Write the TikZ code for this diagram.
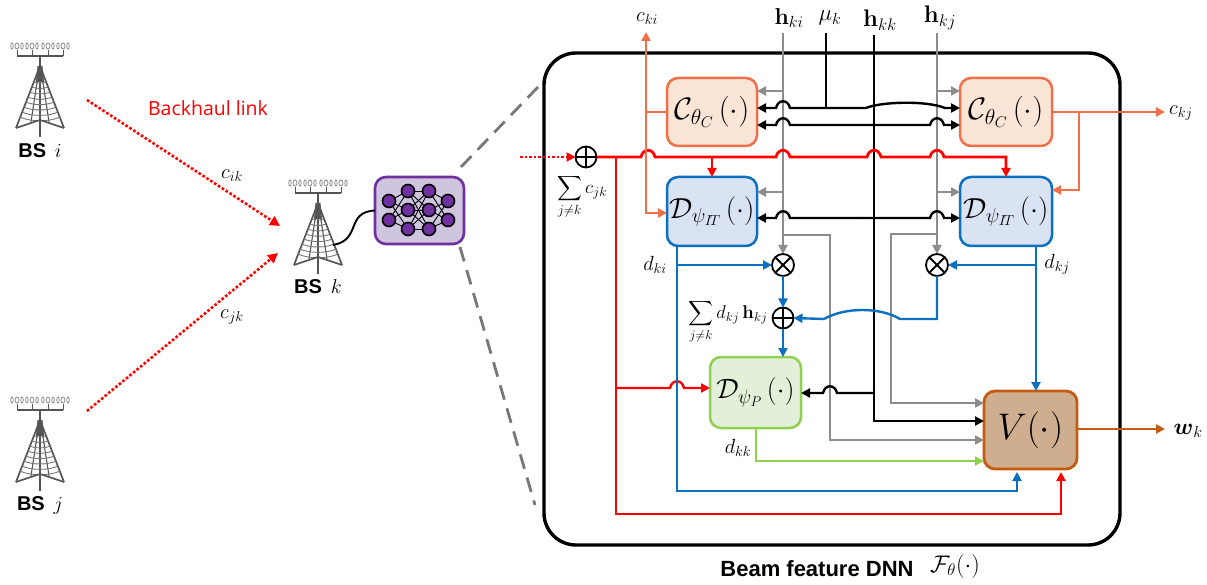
\RequirePackage{fix-cm}
\documentclass[tikz,border=0pt]{standalone}
\usepackage{amsmath}
\usepackage[no-math]{fontspec}
\setmainfont{Liberation Sans}
\newfontfamily\linkfont{Open Sans}
\usetikzlibrary{arrows.meta,calc}
\definecolor{cOr}{HTML}{F0704A}
\definecolor{cOrF}{HTML}{FBE5D6}
\definecolor{cBl}{HTML}{0B70C0}
\definecolor{cBlF}{HTML}{DAE3F3}
\definecolor{cGr}{HTML}{8FD14F}
\definecolor{cGrF}{HTML}{E2F0D9}
\definecolor{cBr}{HTML}{C55A11}
\definecolor{cBrF}{HTML}{CFAE8F}
\definecolor{cPu}{HTML}{7030A0}
\definecolor{cPuF}{HTML}{CFC5DE}
\definecolor{cGy}{HTML}{8C8C8C}
\definecolor{cTw}{HTML}{555555}
\newcommand{\fs}[1]{\fontsize{#1}{#1}\selectfont}
\newcommand{\hopR}[2]{-- (#1-7,#2) .. controls (#1-5,#2-9) and (#1+5,#2-9) .. (#1+7,#2)}
\newcommand{\hopL}[2]{-- (#1+7,#2) .. controls (#1+5,#2-9) and (#1-5,#2-9) .. (#1-7,#2)}
\tikzset{
  x=1pt,y=-1pt,
  block/.style={draw,line width=2.5pt,rounded corners=11pt,inner sep=0pt,outer sep=0pt},
  conn/.style={line width=2.4pt,-{Triangle[length=9pt,width=9pt]}},
  plain/.style={line width=2.4pt},
  lab/.style={inner sep=0pt,outer sep=0pt,font=\fs{20.5}},
  bslab/.style={inner sep=0pt,outer sep=0pt,font=\fs{20}\bfseries},
  plusop/.style={circle,draw,line width=1.8pt,minimum size=21pt,inner sep=0pt,outer sep=0pt,fill=white,
    path picture={\draw[line width=1.8pt] (path picture bounding box.north)--(path picture bounding box.south)
      (path picture bounding box.west)--(path picture bounding box.east);}},
  timesop/.style={circle,draw,line width=1.8pt,minimum size=22pt,inner sep=0pt,outer sep=0pt,fill=white,
    path picture={\draw[line width=1.8pt] (path picture bounding box.north west)--(path picture bounding box.south east)
      (path picture bounding box.south west)--(path picture bounding box.north east);}},
  nn/.style={circle,draw=black,line width=1.6pt,fill=cPu,minimum size=13pt,inner sep=0pt,outer sep=0pt},
  tower/.pic={
    \begin{scope}[cTw]
    \foreach \a in {-23,-8,8,23}{
      \draw[line width=.9pt] (\a,0)--(\a,-6);
      \draw[line width=.8pt,cGy] (\a,-10) ellipse [x radius=2pt,y radius=3pt];
      \draw[line width=.8pt,cGy] (\a-5,-10) ellipse [x radius=1.2pt,y radius=3pt];
      \draw[line width=.8pt,cGy] (\a+5,-10) ellipse [x radius=1.2pt,y radius=3pt];
    }
    \draw[line width=1.1pt] (-23,0)--(23,0);
    \draw[line width=1.8pt] (0,0)--(0,81);
    \fill (-2.5,10)--(2.5,10)--(4,26)--(-4,26)--cycle;
    \draw[line width=1.7pt] (-1.5,14)--(-24,72) (1.5,14)--(24,72);
    \draw[line width=1.1pt] (-1,14)--(-9,66) (1,14)--(9,66);
    \foreach \h/\w in {26/6,31/8,36/10,41/12,46/14,51/16,56/18,61/20}{
      \draw[line width=.9pt,cTw!80] (-\w,\h) .. controls (-\w/2,\h+\w*.25) and (\w/2,\h+\w*.25) .. (\w,\h);
    }
    \draw[line width=1.6pt] (-24,72)--(0,64)--(24,72);
    \end{scope}
  }
}
\begin{document}
\begin{tikzpicture}
\useasboundingbox (0,0) rectangle (1207,585);

% ---------- left: base stations
\pic at (40,56) {tower};
\pic at (40,410) {tower};
\pic at (318,193) {tower};
\node[bslab] (bsi) at (40,151) {BS $\,i$};
\node[bslab] (bsj) at (40,505) {BS $\,j$};
\node[bslab] (bsk) at (318,287) {BS $\,k$};
\coordinate (ti) at (87,100);
\coordinate (tj) at (87,411);
\coordinate (ki) at (280,226);
\coordinate (kj) at (278,253);
\coordinate (kc) at (333,245);
\draw[red,line width=2.6pt,dotted,-{Triangle[length=10pt,width=10pt]}] (ti)--(ki);
\draw[red,line width=2.6pt,dotted,-{Triangle[length=10pt,width=10pt]}] (tj)--(kj);
\node[lab,red,font=\fs{19.5}\linkfont] (bh) at (208,108) {Backhaul link};
\node[lab] (lik) at (232,176) {$c_{ik}$};
\node[lab] (ljk) at (232,317) {$c_{jk}$};

% ---------- neural net
\node[block,draw=cPu,fill=cPuF,line width=2.6pt,minimum width=89pt,minimum height=67pt] (net) at (419.5,210.5) {};
\foreach \n/\px/\py in {a1/389/201,a2/389/220,b1/408/191,b2/408/210,b3/408/229,c1/429/191,c2/429/210,c3/429/229,d1/448/201,d2/448/220}{
  \coordinate (\n) at (\px,\py);
}
\foreach \s in {a1,a2}\foreach \t in {b1,b2,b3}{\draw[line width=.9pt] (\s)--(\t);}
\foreach \s in {b1,b2,b3}\foreach \t in {c1,c2,c3}{\draw[line width=.9pt] (\s)--(\t);}
\foreach \s in {c1,c2,c3}\foreach \t in {d1,d2}{\draw[line width=.9pt] (\s)--(\t);}
\foreach \n in {a1,a2,b1,b2,b3,c1,c2,c3,d1,d2}{\node[nn] at (\n) {};}
\draw[line width=1.9pt] (kc) .. controls (362,240) and (345,212) .. (net.west);

% ---------- zoom guides
\coordinate (g1) at (538,87);
\coordinate (g2) at (460,168);
\coordinate (g3) at (460,247);
\coordinate (g4) at (535,505);
\draw[cTw!80,line width=2.8pt,dash pattern=on 15pt off 9pt] (g1)--(g2);
\draw[cTw!80,line width=2.8pt,dash pattern=on 15pt off 9pt] (g3)--(g4);

% ---------- DNN frame
\node[draw,line width=3.4pt,rounded corners=32pt,minimum width=576pt,minimum height=492pt,inner sep=0pt,outer sep=0pt] (dnn) at (832,299) {};

% ---------- blocks
\node[block,draw=cOr,fill=cOrF,minimum width=90pt,minimum height=68pt,font=\fs{31}] (cl) at (712,112) {$\mathcal{C}_{\theta_C}\,(\cdot)$};
\node[block,draw=cOr,fill=cOrF,minimum width=92pt,minimum height=68pt,font=\fs{31}] (cr) at (1006,112) {$\mathcal{C}_{\theta_C}\,(\cdot)$};
\node[block,draw=cBl,fill=cBlF,minimum width=90pt,minimum height=69pt,font=\fs{29}] (dl) at (712,211.5) {$\mathcal{D}_{\psi_{I\!T}}\,(\cdot)$};
\node[block,draw=cBl,fill=cBlF,minimum width=92pt,minimum height=69pt,font=\fs{29}] (dr) at (1006,211.5) {$\mathcal{D}_{\psi_{I\!T}}\,(\cdot)$};
\node[block,draw=cGr,fill=cGrF,minimum width=91pt,minimum height=71pt,font=\fs{28}] (dp) at (755.5,392.5) {$\mathcal{D}_{\psi_{P}}\,(\cdot)$};
\node[block,draw=cBr,fill=cBrF,line width=2.8pt,minimum width=93pt,minimum height=78pt,font=\fs{37}] (v) at (1030.5,430) {$V(\cdot)$};

% ---------- operators
\node[plusop] (sumin) at (586,157) {};
\node[timesop] (t1) at (783,265) {};
\node[timesop] (t2) at (937,265) {};
\node[plusop] (sumh) at (783,318) {};

% ---------- named ends
\coordinate (hki) at (783,33);
\coordinate (hkj) at (937,33);
\coordinate (hkk) at (874,35);
\coordinate (mu) at (826,33);
\coordinate (cout) at (646,32);
\coordinate (crout) at (1165,112);
\coordinate (wout) at (1165,429);
\coordinate (dotin) at (520,157);

% ---------- gray channels
\draw[conn,cGy] (hki)--(t1.north);
\draw[conn,cGy] (hkj)--(t2.north);
\draw[conn,cGy] (783,91)--(cl.east|-0,91);
\draw[conn,cGy] (937,91)--(cr.west|-0,91);
\draw[conn,cGy] (783,192)--(dl.east|-0,192);
\draw[conn,cGy] (937,192)--(dr.west|-0,192);
\draw[conn,cGy] (783,235)-|(830,440)--(v.west|-0,440);
\draw[conn,cGy] (937,234)-|(891,403)--(v.west|-0,403);

% ---------- black channels
\draw[conn] (hkk)--(874,421)--(v.west|-0,421);
\draw[plain] (mu)--(826,108);
\draw[conn] (826,108) \hopL{783}{108} -- (cl.east|-0,108);
\draw[conn] (826,108) -- (866,108) .. controls (880,102) and (925,100) .. (945,108) -- (cr.west|-0,108);
\draw[conn] (800,125) \hopL{783}{125} -- (cl.east|-0,125);
\draw[conn] (800,125) \hopR{937}{125} -- (cr.west|-0,125);
\draw[conn] (860,218) \hopL{783}{218} -- (dl.east|-0,218);
\draw[conn] (860,218) \hopR{937}{218} -- (dr.west|-0,218);
\draw[conn] (874,393) \hopL{830}{393} -- (dp.east|-0,393);

% ---------- red
\draw[red,line width=2.6pt,dotted,-{Triangle[length=9pt,width=9pt]}] (dotin)--(sumin.west);
\draw[conn,red,line width=2.8pt] (sumin.east) \hopR{648}{157} \hopR{783}{157} \hopR{874}{157} \hopR{937}{157} -- (1006,157) -- (dr.north-|1006,0);
\draw[conn,red] (712,157)--(dl.north);
\draw[conn,red,line width=2.6pt] (616,157)--(616,514)-|(1061,472);
\draw[conn,red] (616,388) \hopR{677}{388} -- (dp.west|-0,388);

% ---------- orange
\draw[conn,cOr] (cl.west)-|(cout);
\draw[conn,cOr] (646,112)--(646,213)--(dl.west|-0,213);
\draw[conn,cOr] (cr.east)--(crout);
\draw[conn,cOr] (1079,112)--(1079,190)--(dr.east|-0,190);

% ---------- blue
\draw[conn,cBl] (677,246)--(677,491)-|(1017,472);
\draw[conn,cBl] (677,265)--(t1.west);
\draw[conn,cBl] (t1.south)--(sumh.north);
\draw[conn,cBl] (sumh.south)--(dp.north-|sumh);
\draw[conn,cBl] (1036,246)--(v.north-|1036,0);
\draw[conn,cBl] (1036,265)--(t2.east);
\draw[conn,cBl] (t2.south)--(937,319)--(900,319) .. controls (880,307) and (845,307) .. (824,319)--(sumh.east);

% ---------- green, brown
\draw[conn,cGr] (756,428)--(756,461)--(v.west|-0,461);
\draw[conn,cBr] (v.east|-0,429)--(wout);

% ---------- labels
\node[lab] (lcki) at (647,19) {$c_{ki}$};
\node[lab,font=\fs{23}] (lhki) at (789,18) {$\mathbf{h}_{ki}$};
\node[lab,font=\fs{23}] (lmu) at (830,18) {$\mu_k$};
\node[lab,font=\fs{24}] (lhkk) at (880,20) {$\mathbf{h}_{kk}$};
\node[lab,font=\fs{24}] (lhkj) at (940,18) {$\mathbf{h}_{kj}$};
\node[lab] (lckj) at (1181,113) {$c_{kj}$};
\node[lab,font=\fs{19}] (lsum) at (582,197) {$\displaystyle\sum_{j\neq k} c_{jk}$};
\node[lab] (ldki) at (655,265) {$d_{ki}$};
\node[lab] (ldkj) at (1057,264) {$d_{kj}$};
\node[lab,font=\fs{18.5}] (lsumh) at (728,322) {$\displaystyle\sum_{j\neq k} d_{kj}\,\mathbf{h}_{kj}$};
\node[lab] (ldkk) at (738,448) {$d_{kk}$};
\node[lab,font=\fs{23}] (lw) at (1188,431) {$\boldsymbol{w}_k$};
\node[bslab,font=\fs{22}\bfseries] (cap) at (817,569) {Beam feature DNN};
\node[lab,font=\fs{24}] (capf) at (955,566) {$\mathcal{F}_{\theta}(\cdot)$};
\end{tikzpicture}
\end{document}
